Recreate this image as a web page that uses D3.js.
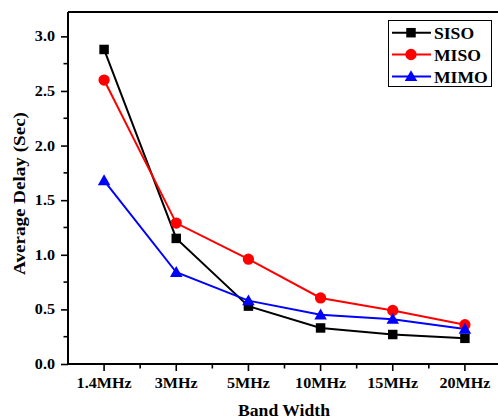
<!DOCTYPE html>
<html><head><meta charset="utf-8">
<script src="https://cdn.jsdelivr.net/npm/d3@7"></script>
<style>body{margin:0;background:#fff}svg{display:block}</style>
</head><body><svg id="c" width="498" height="420"></svg>
<script>
const categories = ["1.4MHz","3MHz","5MHz","10MHz","15MHz","20MHz"];
const siso = [2.88, 1.15, 0.53, 0.33, 0.27, 0.235];
const miso = [2.60, 1.29, 0.96, 0.605, 0.49, 0.36];
const mimo = [1.68, 0.84, 0.58, 0.45, 0.41, 0.32];
const yTicks = [0, 0.5, 1.0, 1.5, 2.0, 2.5, 3.0];
const seriesNames = ["SISO","MISO","MIMO"];
const seriesColors = ["#000000","#ff0000","#0000ff"];
const seriesShapes = [d3.symbolSquare, d3.symbolCircle, d3.symbolTriangle];
const seriesSizes = [90, 100, 68];
const seriesData = [siso, miso, mimo];

const styleText = sel => sel.attr("font-family","Liberation Serif").style("font-family",'"Liberation Serif"').style("font-weight","bold").attr("fill","#000");

const svg = d3.select("#c");
const L = 68, R = 501, T = 12, B = 364;
const x = d3.scaleBand().domain(categories).range([L, R]);
const xc = c => x(c) + x.bandwidth()/2;
const y = d3.scaleLinear().domain([0, 3.223]).range([B, T]);

svg.append("line").attr("x1",L).attr("x2",R).attr("y1",T).attr("y2",T).attr("stroke","#000").attr("stroke-width",2);

// y axis
const yAxis = d3.axisLeft(y).tickValues(yTicks).tickFormat(d3.format(".1f")).tickSize(7).tickPadding(0);
const gy = svg.append("g").attr("transform",`translate(${L},0)`).call(yAxis);
gy.attr("font-family",null);
gy.select(".domain").attr("stroke-width",2).attr("d",`M0,${B}V${T}`);
gy.selectAll(".tick line").attr("stroke-width",1.6);
gy.selectAll(".tick text").call(styleText).style("font-size","14px")
  .attr("x",0).attr("transform","translate(-13,0) scale(1.15,1)");
const yMinor = d3.range(0.25, 3.2, 0.5);
svg.append("g").selectAll("line").data(yMinor).join("line")
  .attr("x1",L-4.5).attr("x2",L).attr("y1",d=>y(d)).attr("y2",d=>y(d)).attr("stroke","#000").attr("stroke-width",1.6);

// x axis
const xAxis = d3.axisBottom(x).tickSize(7).tickPadding(6).tickSizeOuter(0);
const gx = svg.append("g").attr("transform",`translate(0,${B})`).call(xAxis);
gx.attr("font-family",null);
gx.select(".domain").attr("stroke-width",2).attr("d",`M${L},0H${R}`);
gx.selectAll(".tick line").attr("stroke-width",1.6);
gx.selectAll(".tick text").call(styleText).style("font-size","14px")
  .attr("y",0).attr("dy",0).attr("transform","translate(0,24) scale(1.15,1)");
const xMinor = categories.slice(0,-1).map((c,i)=> (xc(c)+xc(categories[i+1]))/2);
svg.append("g").selectAll("line").data(xMinor).join("line")
  .attr("x1",d=>d).attr("x2",d=>d).attr("y1",B).attr("y2",B+4.5).attr("stroke","#000").attr("stroke-width",1.6);

// titles
svg.append("text").attr("x",284).attr("y",416).attr("text-anchor","middle").call(styleText).style("font-size","17px")
  .attr("textLength",92).attr("lengthAdjust","spacingAndGlyphs").text("Band Width");
svg.append("text").attr("transform",`translate(25,193.5) rotate(-90)`).attr("text-anchor","middle").call(styleText).style("font-size","17px")
  .attr("textLength",163).attr("lengthAdjust","spacingAndGlyphs").text("Average Delay (Sec)");

// series
const line = d3.line().x((d,i)=>xc(categories[i])).y(d=>y(d));
seriesData.forEach((vals,k)=>{
  svg.append("path").datum(vals).attr("d",line).attr("fill","none").attr("stroke",seriesColors[k]).attr("stroke-width",2);
});
seriesData.forEach((vals,k)=>{
  svg.append("g").selectAll("path").data(vals).join("path")
    .attr("d", d3.symbol().type(seriesShapes[k]).size(seriesSizes[k]))
    .attr("transform",(d,i)=>`translate(${xc(categories[i])},${y(d) + (k===2?1:0)})`)
    .attr("fill",seriesColors[k]);
});

// legend
const lg = svg.append("g");
lg.append("rect").attr("x",388.5).attr("y",20.5).attr("width",103).attr("height",66).attr("fill","#fff").attr("stroke","#000").attr("stroke-width",1);
const rowsY = [32.7, 54.5, 76.5];
seriesNames.forEach((n,k)=>{
  lg.append("line").attr("x1",392).attr("x2",431).attr("y1",rowsY[k]).attr("y2",rowsY[k]).attr("stroke",seriesColors[k]).attr("stroke-width",2);
  lg.append("path").attr("d", d3.symbol().type(seriesShapes[k]).size(seriesSizes[k]))
    .attr("transform",`translate(411,${rowsY[k] + (k===2?1:0)})`).attr("fill",seriesColors[k]);
  lg.append("text").attr("transform",`translate(434,${rowsY[k]+6}) scale(1.1,1)`).call(styleText).style("font-size","16px").text(n);
});
</script></body></html>
